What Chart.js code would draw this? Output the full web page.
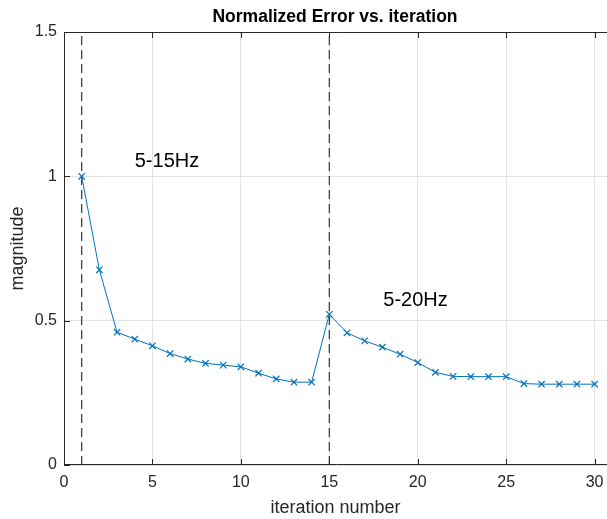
<!DOCTYPE html>
<html>
<head>
<meta charset="utf-8">
<script src="https://cdn.jsdelivr.net/npm/chart.js@4"></script>
<style>
  html, body { margin: 0; padding: 0; background: #fff; overflow: hidden; }
  #wrap { width: 607px; height: 519px; }
</style>
</head>
<body>
<div id="wrap"><canvas id="grafico"></canvas></div>
<script>
// datos
const iteraciones = [1,2,3,4,5,6,7,8,9,10,11,12,13,14,15,16,17,18,19,20,21,22,23,24,25,26,27,28,29,30];
const errorNorm = [1.0, 0.676, 0.46, 0.436, 0.413, 0.386, 0.367, 0.352, 0.346, 0.34,
                   0.318, 0.298, 0.287, 0.287, 0.522, 0.458, 0.43, 0.408, 0.384, 0.355,
                   0.321, 0.307, 0.306, 0.306, 0.306, 0.282, 0.28, 0.28, 0.28, 0.28];
const cortes = [1, 15];
const etiquetas = [
    { texto: '5-15Hz', x: 4.0, y: 1.05 },
    { texto: '5-20Hz', x: 18.05, y: 0.57 }
];
const ticksX = [0, 5, 10, 15, 20, 25, 30];
const ticksY = [0, 0.5, 1, 1.5];

const fuente = '"Liberation Sans", Arial, Helvetica, sans-serif';
const gris = '#262626';

// lineas verticales discontinuas
const lineasCorte = cortes.map(c => ({
    data: [{ x: c, y: ticksY[0] }, { x: c, y: ticksY[ticksY.length - 1] }],
    showLine: true,
    borderColor: '#333333',
    borderWidth: 1.2,
    borderDash: [9, 5],
    pointRadius: 0,
    order: 2
}));

// ejes tipo caja con marcas hacia adentro, titulo y textos
const cajaPlugin = {
    id: 'caja',
    afterDraw(chart) {
        const ctx = chart.ctx;
        const a = chart.chartArea;
        const sx = chart.scales.x, sy = chart.scales.y;
        ctx.save();
        ctx.strokeStyle = gris;
        ctx.lineWidth = 1;
        ctx.beginPath();
        ctx.moveTo(a.right + 10, a.top + 0.5);
        ctx.lineTo(a.left + 0.5, a.top + 0.5);
        ctx.lineTo(a.left + 0.5, a.bottom - 0.5);
        ctx.lineTo(a.right + 10, a.bottom - 0.5);
        ticksX.forEach(v => {
            const px = Math.round(sx.getPixelForValue(v)) + 0.5;
            ctx.moveTo(px, a.bottom);
            ctx.lineTo(px, a.bottom - 6);
            ctx.moveTo(px, a.top);
            ctx.lineTo(px, a.top + 6);
        });
        ticksY.forEach(v => {
            const py = Math.round(sy.getPixelForValue(v)) + 0.5;
            ctx.moveTo(a.left, py);
            ctx.lineTo(a.left + 6, py);
        });
        ctx.stroke();

        ctx.fillStyle = '#000';
        ctx.font = 'bold 17.5px ' + fuente;
        ctx.textAlign = 'center';
        ctx.textBaseline = 'middle';
        ctx.fillText('Normalized Error vs. iteration', 335, 17);

        ctx.font = '20px ' + fuente;
        ctx.textAlign = 'left';
        etiquetas.forEach(e => {
            ctx.fillText(e.texto, sx.getPixelForValue(e.x), sy.getPixelForValue(e.y));
        });
        ctx.restore();
    }
};

window.onload = function () {
    const ctx = document.getElementById('grafico');

    new Chart(ctx, {
        type: 'scatter',
        data: {
            datasets: [{
                data: iteraciones.map((it, i) => ({ x: it, y: errorNorm[i] })),
                showLine: true,
                borderColor: '#0072BD',
                borderWidth: 1,
                pointStyle: 'crossRot',
                pointRadius: 4.5,
                pointBorderColor: '#0072BD',
                pointBorderWidth: 1.2,
                order: 1
            }, ...lineasCorte]
        },
        options: {
            responsive: true,
            maintainAspectRatio: false,
            animation: false,
            layout: { autoPadding: false, padding: { top: 32, right: 0, left: 0, bottom: 0 } },
            plugins: {
                legend: { display: false },
                tooltip: { enabled: false }
            },
            scales: {
                x: {
                    type: 'linear',
                    min: 0,
                    max: 30.7,
                    afterBuildTicks: s => { s.ticks = ticksX.map(v => ({ value: v })); },
                    afterFit: s => { s.height = 54; s.paddingRight = 0; s.paddingLeft = 0; },
                    grid: { color: '#e3e3e3', drawTicks: false },
                    border: { display: false },
                    ticks: { color: gris, padding: 8, maxRotation: 0, font: { family: fuente, size: 16 } },
                    title: {
                        display: true,
                        text: 'iteration number',
                        color: gris,
                        padding: { top: 0, bottom: 0 },
                        font: { family: fuente, size: 18 }
                    }
                },
                y: {
                    min: 0,
                    max: 1.5,
                    afterBuildTicks: s => { s.ticks = ticksY.map(v => ({ value: v })); },
                    afterFit: s => { s.width = 64; },
                    grid: { color: '#e3e3e3', drawTicks: false },
                    border: { display: false },
                    ticks: { color: gris, padding: 7, font: { family: fuente, size: 16 },
                             callback: v => String(v) },
                    title: {
                        display: true,
                        text: 'magnitude',
                        color: gris,
                        padding: { top: 7, bottom: 0 },
                        font: { family: fuente, size: 18 }
                    }
                }
            }
        },
        plugins: [cajaPlugin]
    });
};
</script>
</body>
</html>
